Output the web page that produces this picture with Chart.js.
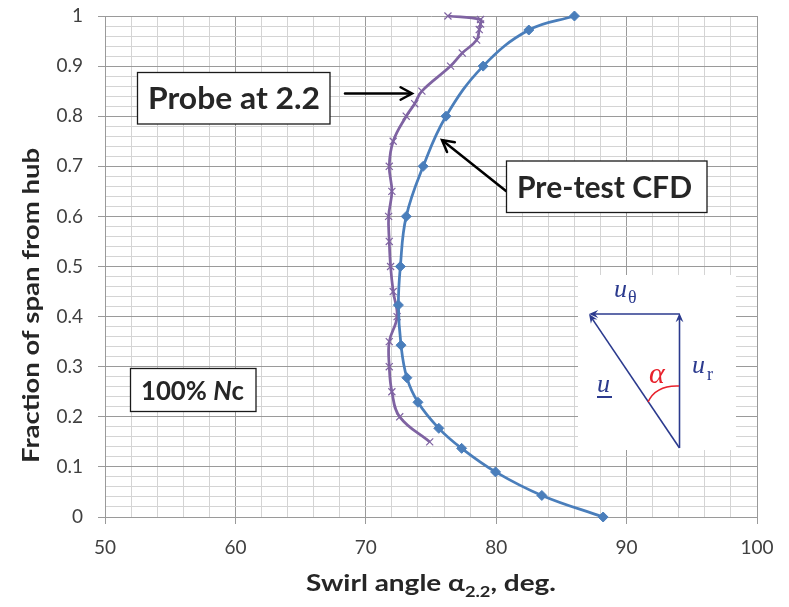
<!DOCTYPE html>
<html><head><meta charset="utf-8">
<script src="https://cdn.jsdelivr.net/npm/chart.js@4/dist/chart.umd.min.js"></script>
<style>html,body{margin:0;padding:0;background:#fff;}#wrap{width:789px;height:607px;position:relative;}</style>
</head><body><div id="wrap"><canvas id="c" width="789" height="607"></canvas></div>
<script>
// ---- data ----
const cfdAngle = [86.0, 82.5, 79.0, 76.15, 74.4, 73.1, 72.65, 72.5, 72.7, 73.15, 74.0, 75.6, 77.35, 79.95, 83.5, 88.2];
const cfdSpan  = [1.0, 0.972, 0.9, 0.8, 0.7, 0.6, 0.5, 0.423, 0.343, 0.278, 0.229, 0.177, 0.137, 0.09, 0.043, 0.0];
const probeAngle = [76.3, 78.8, 78.8, 78.7, 78.5, 77.4, 76.5, 74.3, 73.75, 73.1, 72.1, 71.8, 72.0, 71.75, 71.8, 71.9, 72.1, 72.4, 71.8, 71.8, 72.0, 72.6, 74.9];
const probeSpan  = [1.0, 0.993, 0.984, 0.973, 0.952, 0.926, 0.9, 0.85, 0.825, 0.8, 0.75, 0.7, 0.65, 0.6, 0.55, 0.5, 0.45, 0.4, 0.35, 0.3, 0.25, 0.2, 0.15];
const xMajorTicks = [50, 60, 70, 80, 90, 100];
const yMajorTicks = [0, 0.1, 0.2, 0.3, 0.4, 0.5, 0.6, 0.7, 0.8, 0.9, 1];
const seriesNames = ['Probe at 2.2', 'Pre-test CFD'];
const noteText = ['100% ', 'N', 'c'];
const xTitleParts = ['Swirl angle \u03B1', '2.2', ', deg.'];
const yTitle = 'Fraction of span from hub';

const MAJ = '#9a9a9a', MIN = '#d4d4d4';
const isMajorX = v => xMajorTicks.some(t => Math.abs(t - v) < 1e-6);
const isMajorY = v => yMajorTicks.some(t => Math.abs(t - v) < 1e-6);
const TXT = '#262626';

function fitText(ctx, text, cx, cy, font, w) {
  ctx.save(); ctx.font = font;
  const m = ctx.measureText(text).width;
  ctx.translate(cx, cy); ctx.scale(w / m, 1);
  ctx.textAlign = 'center'; ctx.textBaseline = 'middle';
  ctx.fillText(text, 0, 0); ctx.restore();
}
function openArrow(ctx, x1, y1, x2, y2) {
  const a = Math.atan2(y2 - y1, x2 - x1), L = 13, H = 0.5;
  ctx.beginPath(); ctx.moveTo(x1, y1); ctx.lineTo(x2 - Math.cos(a) * 1.5, y2 - Math.sin(a) * 1.5); ctx.stroke();
  ctx.beginPath();
  ctx.moveTo(x2 - L * Math.cos(a - H), y2 - L * Math.sin(a - H));
  ctx.lineTo(x2, y2);
  ctx.lineTo(x2 - L * Math.cos(a + H), y2 - L * Math.sin(a + H));
  ctx.stroke();
}
function solidArrow(ctx, x1, y1, x2, y2) {
  const a = Math.atan2(y2 - y1, x2 - x1), L = 10, H = 0.4;
  ctx.beginPath(); ctx.moveTo(x1, y1); ctx.lineTo(x2 - Math.cos(a) * 5, y2 - Math.sin(a) * 5); ctx.stroke();
  ctx.beginPath();
  ctx.moveTo(x2, y2);
  ctx.lineTo(x2 - L * Math.cos(a - H), y2 - L * Math.sin(a - H));
  ctx.lineTo(x2 - 6 * Math.cos(a), y2 - 6 * Math.sin(a));
  ctx.lineTo(x2 - L * Math.cos(a + H), y2 - L * Math.sin(a + H));
  ctx.closePath(); ctx.fill();
}
function box(ctx, x1, y1, x2, y2) {
  ctx.save(); ctx.fillStyle = '#fff'; ctx.fillRect(x1, y1, x2 - x1, y2 - y1);
  ctx.strokeStyle = '#1a1a1a'; ctx.lineWidth = 1.3; ctx.strokeRect(x1, y1, x2 - x1, y2 - y1); ctx.restore();
}

const overlay = {
  id: 'overlay',
  afterDatasetsDraw(chart) {
    const ctx = chart.ctx;
    ctx.save();
    // Probe box + arrow
    box(ctx, 137.5, 72.5, 330, 124);
    ctx.fillStyle = TXT;
    fitText(ctx, seriesNames[0], 234, 99, 'bold 30px Lato', 172);
    ctx.strokeStyle = '#000'; ctx.lineWidth = 2.5; ctx.lineCap = 'round';
    openArrow(ctx, 345, 93.5, 412, 93.5);
    // CFD box + arrow
    openArrow(ctx, 506, 191, 442, 140);
    box(ctx, 506.5, 161, 707, 212.5);
    ctx.fillStyle = TXT;
    fitText(ctx, seriesNames[1], 604.5, 188, 'bold 30px Lato', 175);
    // 100% Nc
    box(ctx, 130.5, 368.5, 256, 411.5);
    ctx.font = 'bold 27px Lato'; ctx.textBaseline = 'middle';
    const w0 = ctx.measureText(noteText[0]).width;
    ctx.font = 'italic bold 27px Lato'; const w1 = ctx.measureText(noteText[1]).width;
    ctx.font = 'bold 27px Lato'; const w2 = ctx.measureText(noteText[2]).width;
    const s = 103 / (w0 + w1 + w2);
    ctx.save(); ctx.translate(141, 391); ctx.scale(s, 1); ctx.textAlign = 'left';
    ctx.font = 'bold 27px Lato'; ctx.fillText(noteText[0], 0, 0);
    ctx.font = 'italic bold 27px Lato'; ctx.fillText(noteText[1], w0, 0);
    ctx.font = 'bold 27px Lato'; ctx.fillText(noteText[2], w0 + w1, 0);
    ctx.restore();
    // inset diagram
    ctx.fillStyle = '#fff'; ctx.fillRect(578, 275, 158, 175);
    const B = '#2b3a8e';
    ctx.strokeStyle = B; ctx.fillStyle = B; ctx.lineWidth = 1.6; ctx.lineCap = 'butt';
    solidArrow(ctx, 679.5, 448, 679.5, 313);
    solidArrow(ctx, 679.5, 314, 589, 314);
    solidArrow(ctx, 679.5, 448, 589, 314);
    ctx.textBaseline = 'alphabetic'; ctx.textAlign = 'left';
    ctx.font = 'italic 26px "Liberation Serif"';
    ctx.fillText('u', 614, 297);
    ctx.fillText('u', 692, 373);
    ctx.fillText('u', 597, 392);
    ctx.font = '18px "Liberation Serif"';
    ctx.fillText('\u03B8', 628, 303);
    ctx.fillText('r', 707, 380);
    ctx.lineWidth = 2; ctx.beginPath(); ctx.moveTo(597, 397); ctx.lineTo(612, 397); ctx.stroke();
    ctx.fillStyle = '#e8212b'; ctx.strokeStyle = '#e8212b';
    ctx.font = 'italic 30px "Liberation Serif"';
    ctx.fillText('\u03B1', 649, 383);
    ctx.lineWidth = 1.6; ctx.beginPath(); ctx.moveTo(648, 402); ctx.quadraticCurveTo(656, 385, 679, 386); ctx.stroke();
    ctx.restore();
  },
  afterDraw(chart) {
    const ctx = chart.ctx;
    ctx.save(); ctx.fillStyle = TXT;
    // y title
    ctx.save(); ctx.translate(32, 305.5); ctx.rotate(-Math.PI / 2);
    fitText(ctx, yTitle, 0, 0, 'bold 23px Lato', 315);
    ctx.restore();
    // x title with subscript
    const F = 'bold 23px Lato', FS = 'bold 15px Lato';
    ctx.font = F; const a = ctx.measureText(xTitleParts[0]).width;
    ctx.font = FS; const b = ctx.measureText(xTitleParts[1]).width;
    ctx.font = F; const c = ctx.measureText(xTitleParts[2]).width;
    const total = a + b + c, target = 250, sc = target / total;
    ctx.translate(431 - target / 2, 591); ctx.scale(sc, 1);
    ctx.textAlign = 'left'; ctx.textBaseline = 'alphabetic';
    ctx.font = F; ctx.fillText(xTitleParts[0], 0, 0);
    ctx.font = FS; ctx.fillText(xTitleParts[1], a, 6);
    ctx.font = F; ctx.fillText(xTitleParts[2], a + b, 0);
    ctx.restore();
  }
};

new Chart(document.getElementById('c'), {
  type: 'scatter',
  data: {
    datasets: [
      { label: seriesNames[0], data: probeAngle.map((x, i) => ({ x, y: probeSpan[i] })),
        showLine: true, borderColor: '#7f63a2', backgroundColor: '#7f63a2', borderWidth: 2.75,
        pointStyle: 'crossRot', pointRadius: 5, pointBorderWidth: 1.2, pointBorderColor: '#7f63a2',
        tension: 0.4, clip: false, order: 2 },
      { label: seriesNames[1], data: cfdAngle.map((x, i) => ({ x, y: cfdSpan[i] })),
        showLine: true, borderColor: '#4a7ebb', backgroundColor: '#4a7ebb', borderWidth: 2.75,
        pointStyle: 'rectRot', pointRadius: 5, pointBackgroundColor: '#4a7ebb', pointBorderColor: '#4a7ebb', pointBorderWidth: 1,
        tension: 0.4, clip: false, order: 1 }
    ]
  },
  options: {
    responsive: false, animation: false, devicePixelRatio: 1,
    layout: { padding: { top: 16, right: 32, left: 0, bottom: 0 } },
    plugins: { legend: { display: false }, tooltip: { enabled: false } },
    elements: { point: { hoverRadius: 5 } },
    scales: {
      x: {
        type: 'linear', min: xMajorTicks[0], max: xMajorTicks[xMajorTicks.length - 1],
        afterFit(s) { s.height = 90; },
        ticks: { stepSize: 2, autoSkip: false, maxRotation: 0, padding: 12, color: '#404040',
          font: { family: 'Lato', size: 19 },
          callback: v => isMajorX(v) ? String(v) : '' },
        grid: { color: c => isMajorX(c.tick.value) ? MAJ : MIN, lineWidth: 1, tickLength: 7,
          tickColor: c => isMajorX(c.tick.value) ? MAJ : 'rgba(0,0,0,0)' },
        border: { color: MAJ, width: 1 }
      },
      y: {
        type: 'linear', min: yMajorTicks[0], max: yMajorTicks[yMajorTicks.length - 1],
        afterFit(s) { s.width = 105; s.paddingTop = 0; },
        ticks: { stepSize: 0.02, autoSkip: false, padding: 15, color: '#404040',
          font: { family: 'Lato', size: 19 },
          callback: v => isMajorY(v) ? String(Math.round(v * 10) / 10) : '' },
        grid: { color: c => isMajorY(c.tick.value) ? MAJ : MIN, lineWidth: 1, tickLength: 7,
          tickColor: c => isMajorY(c.tick.value) ? MAJ : 'rgba(0,0,0,0)' },
        border: { color: MAJ, width: 1 }
      }
    }
  },
  plugins: [overlay]
});
</script></body></html>
